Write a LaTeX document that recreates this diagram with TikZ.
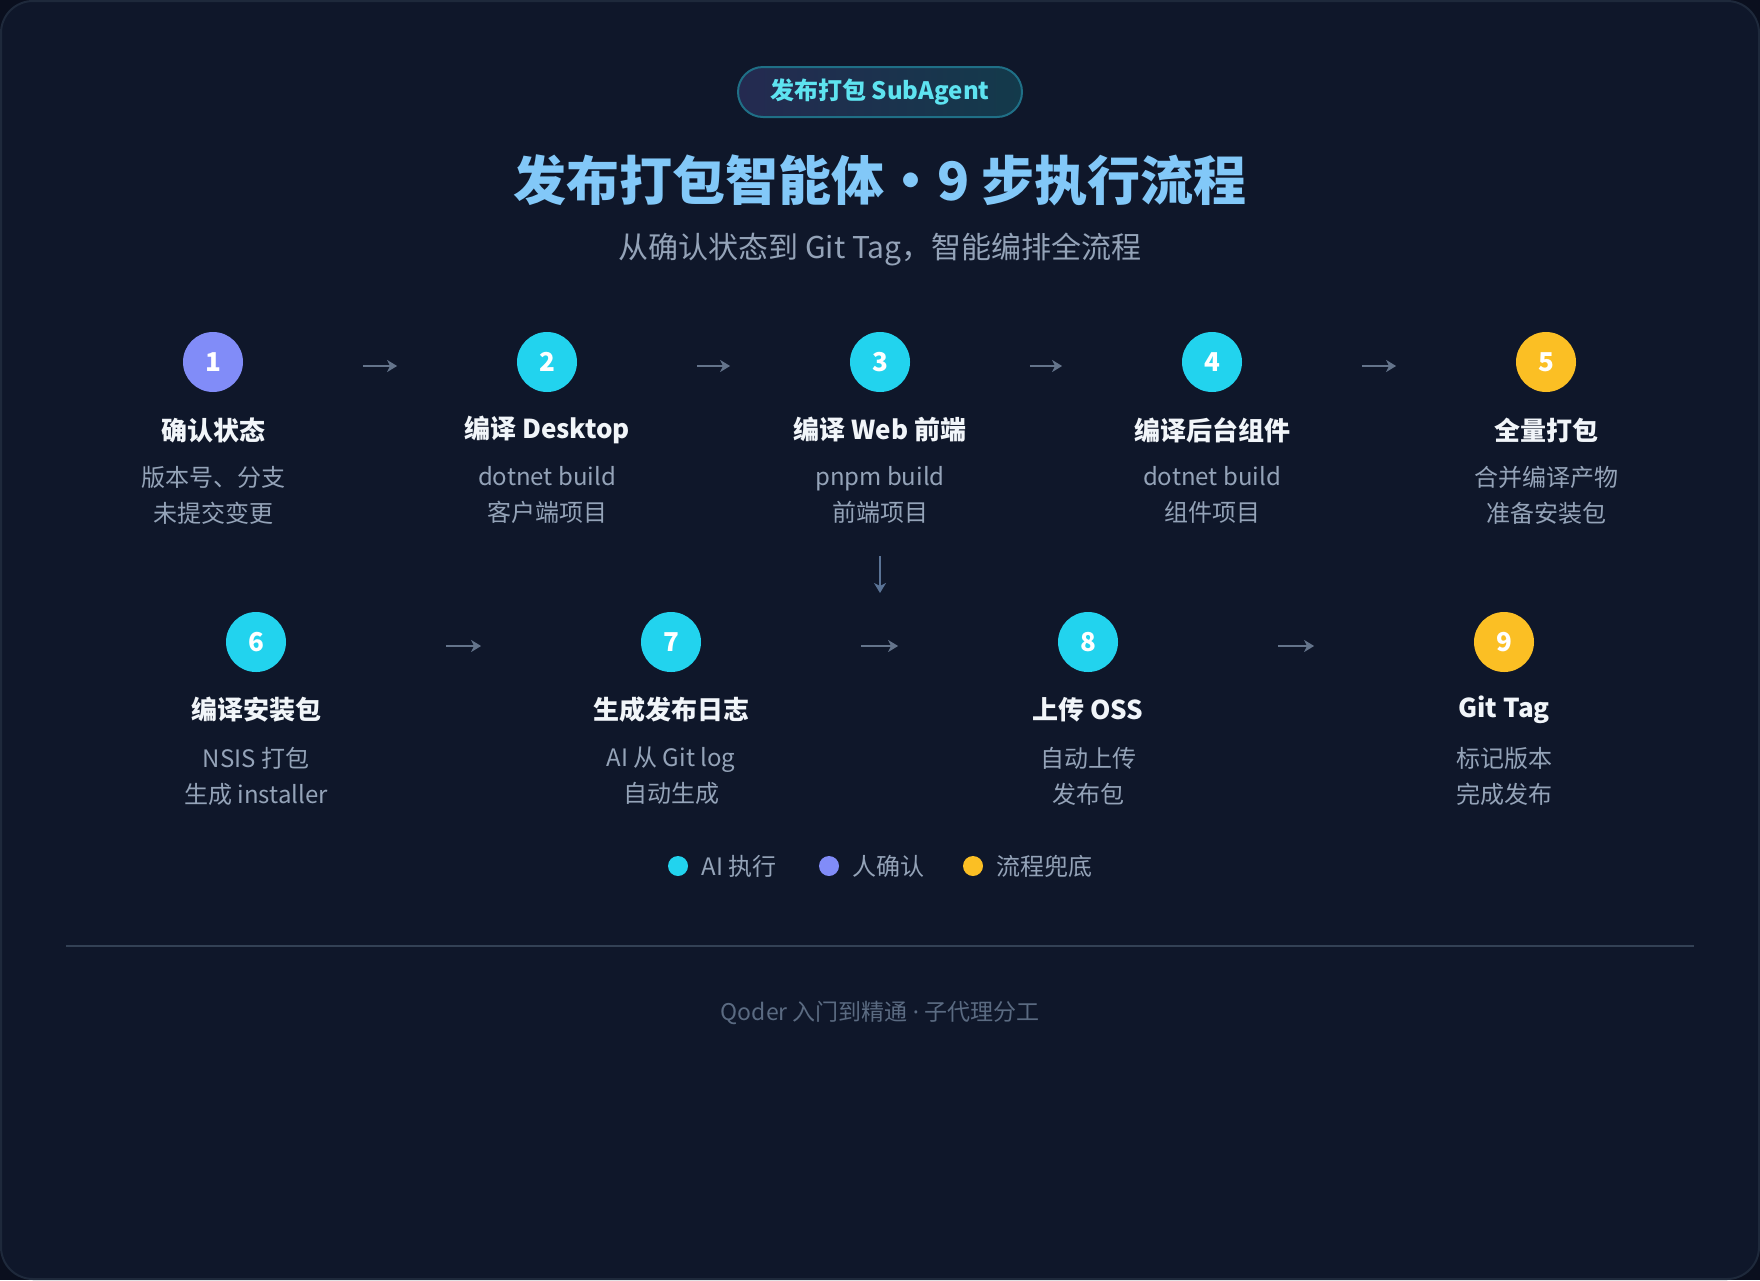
\documentclass[tikz,border=0pt]{standalone}
\usepackage{fontspec}
\setmainfont{Noto Sans CJK SC}
\newfontfamily\lateinfont{Noto Sans}
\usetikzlibrary{arrows.meta}
\definecolor{aussen}{HTML}{0A0F1E}
\definecolor{hintergrund}{HTML}{0F172A}
\definecolor{rand}{HTML}{1E293B}
\definecolor{linie}{HTML}{334155}
\definecolor{pfeilgrau}{HTML}{64748B}
\definecolor{pfeilblau}{HTML}{5A7396}
\definecolor{hellblau}{HTML}{82C8F8}
\definecolor{grau}{HTML}{94A3B8}
\definecolor{fussgrau}{HTML}{5B6B82}
\definecolor{weiss}{HTML}{F1F5F9}
\definecolor{lila}{HTML}{818CF8}
\definecolor{tuerkis}{HTML}{22D3EE}
\definecolor{gelb}{HTML}{FBBF24}
\definecolor{badgelinks}{HTML}{242A50}
\definecolor{badgerechts}{HTML}{133A4B}
\definecolor{badgerand}{HTML}{1F6F86}
\definecolor{badgetext}{HTML}{5EE3F0}
\begin{document}
\begin{tikzpicture}[x=0.5pt,y=-0.5pt,
	kreis/.style={circle,minimum size=30pt,inner sep=0pt,text=white,font=\bfseries\fontsize{13}{13}\selectfont},
	titel/.style={text=weiss,font=\bfseries\fontsize{13}{16}\selectfont},
	beschr/.style={text=grau,align=center,font=\fontsize{12}{18}\selectfont},
	pfeil/.style={draw=pfeilgrau,line width=1pt,-{Stealth[length=5pt,width=6pt,inset=1.5pt]}},
	punkt/.style={circle,minimum size=10pt,inner sep=0pt},
	legende/.style={anchor=west,inner sep=0pt,text=grau,font=\fontsize{12}{12}\selectfont}]
		%Hintergrund
		\useasboundingbox (0,0) rectangle (1760,1280);
		\fill [aussen] (0,0) rectangle (1760,1280);
		\draw [fill=hintergrund,draw=rand,line width=1pt,rounded corners=16pt] (1,1) rectangle (1759,1279);
		%Kopf
		\node [draw=badgerand,line width=1pt,left color=badgelinks,right color=badgerechts,rounded corners=12.5pt,minimum width=142pt,minimum height=25pt,text=badgetext,font=\bfseries\fontsize{12}{12}\selectfont] (badge) at (880,92) {发布打包 SubAgent};
		\node [text=hellblau,font=\bfseries\fontsize{26.5}{27}\selectfont] (kopf) at (880,180) {发布打包智能体·9 步执行流程};
		\node [text=grau,font=\fontsize{15}{15}\selectfont] (unterkopf) at (880,249) {从确认状态到 Git Tag，智能编排全流程};
		%Reihe 1
		\node [kreis,fill=lila] (s1) at (213,362) {1};
		\node [titel] (t1) at (213,430) {确认状态};
		\node [beschr] (d1) at (213,495) {版本号、分支\\未提交变更};
		\node [kreis,fill=tuerkis] (s2) at (547,362) {2};
		\node [titel] (t2) at (547,430) {编译 Desktop};
		\node [beschr] (d2) at (547,495) {dotnet build\\客户端项目};
		\node [kreis,fill=tuerkis] (s3) at (880,362) {3};
		\node [titel] (t3) at (880,430) {编译 Web 前端};
		\node [beschr] (d3) at (880,495) {pnpm build\\前端项目};
		\node [kreis,fill=tuerkis] (s4) at (1212,362) {4};
		\node [titel] (t4) at (1212,430) {编译后台组件};
		\node [beschr] (d4) at (1212,495) {dotnet build\\组件项目};
		\node [kreis,fill=gelb] (s5) at (1546,362) {5};
		\node [titel] (t5) at (1546,430) {全量打包};
		\node [beschr] (d5) at (1546,495) {合并编译产物\\准备安装包};
		\draw [pfeil,shorten <=59.75pt,shorten >=59.75pt] ([yshift=-2pt]s1.east) -- ([yshift=-2pt]s2.west);
		\draw [pfeil,shorten <=59.75pt,shorten >=59.75pt] ([yshift=-2pt]s2.east) -- ([yshift=-2pt]s3.west);
		\draw [pfeil,shorten <=59.75pt,shorten >=59.75pt] ([yshift=-2pt]s3.east) -- ([yshift=-2pt]s4.west);
		\draw [pfeil,shorten <=59.75pt,shorten >=59.75pt] ([yshift=-2pt]s4.east) -- ([yshift=-2pt]s5.west);
		%Knick nach unten
		\coordinate (knick) at (880,593);
		\draw [pfeil,draw=pfeilblau,shorten <=82pt] (s3.south) -- (knick);
		%Reihe 2
		\node [kreis,fill=tuerkis] (s6) at (256,642) {6};
		\node [titel] (t6) at (256,710) {编译安装包};
		\node [beschr] (d6) at (256,776) {NSIS 打包\\生成 installer};
		\node [kreis,fill=tuerkis] (s7) at (671,642) {7};
		\node [titel] (t7) at (671,710) {生成发布日志};
		\node [beschr] (d7) at (671,776) {AI 从 Git log\\自动生成};
		\node [kreis,fill=tuerkis] (s8) at (1088,642) {8};
		\node [titel] (t8) at (1088,710) {上传 OSS};
		\node [beschr] (d8) at (1088,776) {自动上传\\发布包};
		\node [kreis,fill=gelb] (s9) at (1504,642) {9};
		\node [titel] (t9) at (1504,710) {Git Tag};
		\node [beschr] (d9) at (1504,776) {标记版本\\完成发布};
		\draw [pfeil,shorten <=79.75pt,shorten >=79.75pt] ([yshift=-2pt]s6.east) -- ([yshift=-2pt]s7.west);
		\draw [pfeil,shorten <=79.75pt,shorten >=79.75pt] ([yshift=-2pt]s7.east) -- ([yshift=-2pt]s8.west);
		\draw [pfeil,shorten <=79.75pt,shorten >=79.75pt] ([yshift=-2pt]s8.east) -- ([yshift=-2pt]s9.west);
		%Legende
		\node [punkt,fill=tuerkis] (p1) at (678,866) {};
		\node [legende] (l1) at (701,866) {AI 执行};
		\node [punkt,fill=lila] (p2) at (829,866) {};
		\node [legende] (l2) at (852,866) {人确认};
		\node [punkt,fill=gelb] (p3) at (973,866) {};
		\node [legende] (l3) at (996,866) {流程兜底};
		%Fuss
		\draw [linie,line width=1pt] (66,946) -- (1694,946);
		\node [text=fussgrau,font=\fontsize{11.5}{11.5}\selectfont] (fuss) at (880,1013) {Qoder 入门到精通 {\lateinfont ·} 子代理分工};
\end{tikzpicture}
\end{document}
